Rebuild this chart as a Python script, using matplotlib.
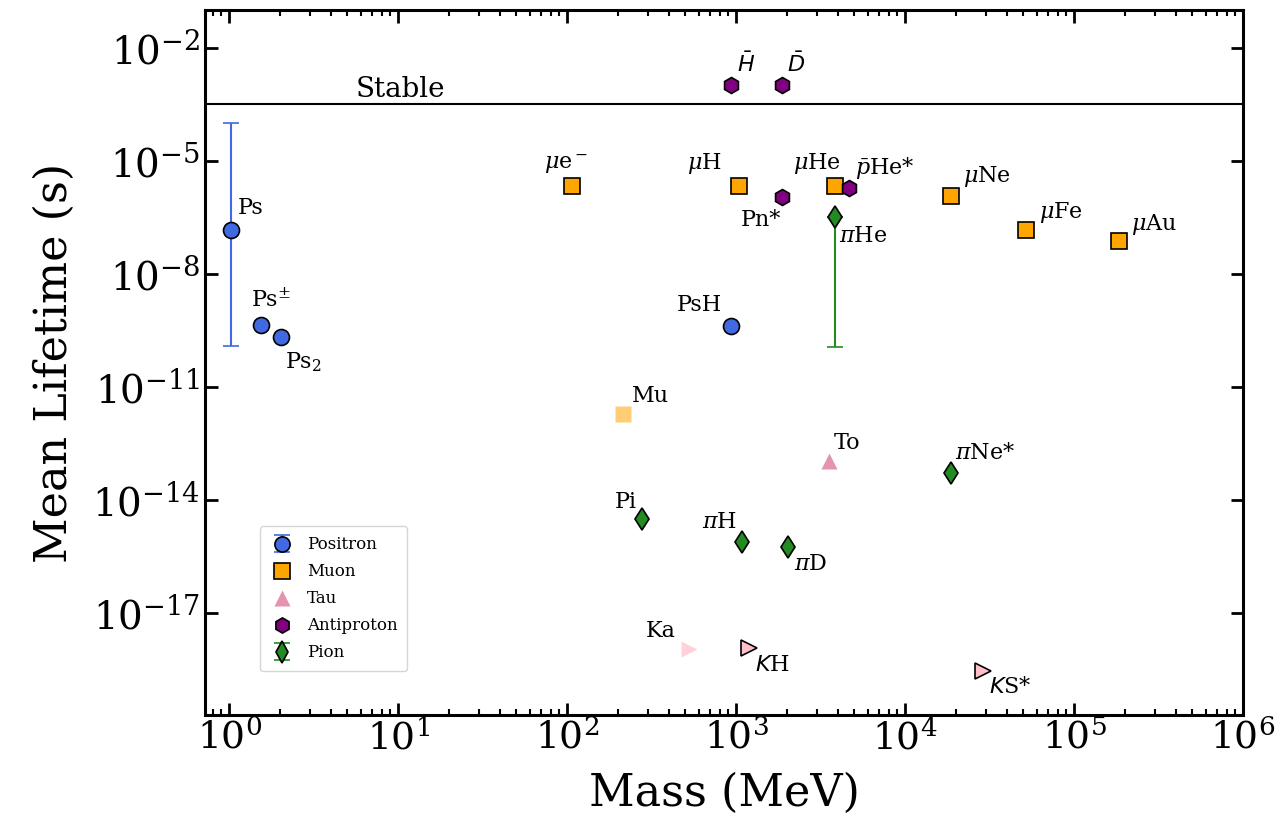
import numpy as np
import matplotlib
matplotlib.use("Agg")
import matplotlib.pyplot as plt
from matplotlib.ticker import LogLocator, NullLocator, NullFormatter

# masses in MeV, mean lifetimes in s
positron_names = ["Ps", r"Ps$^{\pm}$", r"Ps$_2$", "PsH"]
positron_mass = [1.022, 1.533, 2.04, 939.0]
positron_life = [1.42e-7, 4.5e-10, 2.1e-10, 4.2e-10]
ps_life_range = [1.25e-10, 1.0e-4]  # para-Ps .. upper bound

muon_names = [r"$\mu$e$^-$", r"$\mu$H", r"$\mu$He", r"$\mu$Ne", r"$\mu$Fe", r"$\mu$Au"]
muon_mass = [107.0, 1044.0, 3833.0, 18720.0, 52200.0, 183600.0]
muon_life = [2.2e-6, 2.2e-6, 2.2e-6, 1.15e-6, 1.45e-7, 7.4e-8]

muonium_name = "Mu"
muonium_mass = 214.0
muonium_life = 1.9e-12

tau_name = "To"
tau_mass = 3554.0
tau_life = 1.1e-13

pbar_names = [r"$\bar{H}$", r"$\bar{D}$", "Pn*", r"$\bar{p}$He*"]
pbar_mass = [938.8, 1876.0, 1878.0, 4665.0]
pbar_life = [1.0e-3, 1.0e-3, 1.07e-6, 1.9e-6]

pion_names = [r"$\pi$He", "Pi", r"$\pi$H", r"$\pi$D", r"$\pi$Ne*"]
pion_mass = [3867.0, 279.0, 1078.0, 2016.0, 18760.0]
pion_life = [3.2e-7, 3.1e-15, 7.6e-16, 5.6e-16, 5.4e-14]
pihe_life_low = 1.15e-10

kaon_names = ["Ka", r"$K$H", r"$K$S*"]
kaon_mass = [527.0, 1194.0, 29000.0]
kaon_life = [1.1e-18, 1.2e-18, 3.0e-19]
kaon_faded = [True, False, False]

stable_life = 3.3e-4

# label offsets in pixels (dx, dy, ha)
positron_offsets = [(7, 22, "left"), (-10, 25, "left"), (4, -25, "left"), (-9, 21, "right")]
muon_offsets = [(-6, 22, "center"), (-18, 22, "right"), (-18, 22, "center"),
                (12, 20, "left"), (13, 18, "left"), (12, 17, "left")]
pbar_offsets = [(15, 21, "center"), (14, 21, "center"), (-1, -23, "right"), (6, 20, "left")]
pion_offsets = [(4, -19, "left"), (-6, 17, "right"), (-5, 20, "right"),
                (6, -17, "left"), (4, 20, "left")]
kaon_offsets = [(-13, 18, "right"), (6, -17, "left"), (6, -16, "left")]

plt.rcParams.update({
    "font.family": "DejaVu Serif",
    "mathtext.fontset": "dejavuserif",
})

fig = plt.figure(figsize=(12.84, 8.15), dpi=100)
ax = fig.add_axes([0.1597, 0.1227, 0.8084, 0.865])

ms = 11.5
fs = 16
edge = dict(markeredgecolor="black", markeredgewidth=1.2)


def label(names, xs, ys, offsets, sans=()):
    for i, (n, x, y, (dx, dy, ha)) in enumerate(zip(names, xs, ys, offsets)):
        kw = {}
        if i in sans:
            kw["math_fontfamily"] = "dejavusans"
        ax.annotate(n, (x, y), xytext=(dx, dy), textcoords="offset pixels",
                    ha=ha, va="center", fontsize=fs, **kw)


# positronic systems
ps_err = [[positron_life[0] - ps_life_range[0]], [ps_life_range[1] - positron_life[0]]]
h_pos = ax.errorbar(positron_mass[:1], positron_life[:1], yerr=ps_err, fmt="o",
                    color="royalblue", ecolor="royalblue", elinewidth=1.5, capsize=6,
                    capthick=1.5, ms=ms, label="Positron", **edge)
ax.plot(positron_mass[1:], positron_life[1:], "o", color="royalblue", ms=ms, **edge)
label(positron_names, positron_mass, positron_life, positron_offsets)

# muonic systems
h_mu, = ax.plot(muon_mass, muon_life, "s", color="orange", ms=ms, label="Muon", **edge)
ax.plot([muonium_mass], [muonium_life], "s", color="orange", alpha=0.55, ms=ms, mec="none")
label(muon_names, muon_mass, muon_life, muon_offsets)
label([muonium_name], [muonium_mass], [muonium_life], [(9, 18, "left")])

# true tauonium
h_tau, = ax.plot([tau_mass], [tau_life], "^", color="palevioletred", alpha=0.75, ms=ms,
                 mec="none", label="Tau")
label([tau_name], [tau_mass], [tau_life], [(5, 18, "left")])

# antiprotonic systems
h_pbar, = ax.plot(pbar_mass, pbar_life, "h", color="purple", ms=ms, label="Antiproton",
                  **edge)
label(pbar_names, pbar_mass, pbar_life, pbar_offsets, sans=(0, 1))

# pionic systems
pihe_err = [[pion_life[0] - pihe_life_low], [0.0]]
h_pi = ax.errorbar(pion_mass[:1], pion_life[:1], yerr=pihe_err, fmt="d",
                   color="forestgreen", ecolor="forestgreen", elinewidth=1.5, capsize=6,
                   capthick=1.5, ms=ms, label="Pion", **edge)
ax.plot(pion_mass[1:], pion_life[1:], "d", color="forestgreen", ms=ms, **edge)
label(pion_names, pion_mass, pion_life, pion_offsets)

# kaonic systems
for m, t, faded in zip(kaon_mass, kaon_life, kaon_faded):
    if faded:
        ax.plot([m], [t], ">", color="pink", alpha=0.7, ms=ms, mec="none")
    else:
        ax.plot([m], [t], ">", color="pink", ms=ms, **edge)
label(kaon_names, kaon_mass, kaon_life, kaon_offsets, sans=(1, 2))

# stable limit
ax.axhline(stable_life, color="black", lw=1.5)
ax.annotate("Stable", (5.6, stable_life), xytext=(0, 1), textcoords="offset pixels",
            ha="left", va="bottom", fontsize=20)

ax.set_xscale("log")
ax.set_yscale("log")
ax.set_xlim(0.72, 1e6)
ax.set_ylim(2e-20, 1e-1)
ax.set_yticks([1e-17, 1e-14, 1e-11, 1e-8, 1e-5, 1e-2])
ax.yaxis.set_minor_locator(NullLocator())
ax.yaxis.set_minor_formatter(NullFormatter())
ax.xaxis.set_major_locator(LogLocator(base=10, numticks=10))
ax.xaxis.set_minor_locator(LogLocator(base=10, subs=np.arange(2, 10), numticks=20))

ax.tick_params(which="both", direction="in", top=True, right=True, labelsize=27)
ax.tick_params(axis="y", labelsize=28)
ax.tick_params(which="major", length=9, width=2)
ax.tick_params(which="minor", length=4.5, width=1.5)
for s in ax.spines.values():
    s.set_linewidth(2.2)

ax.set_xlabel("Mass (MeV)", fontsize=32, labelpad=10)
ax.set_ylabel("Mean Lifetime (s)", fontsize=32, labelpad=12)

ax.legend([h_pos, h_mu, h_tau, h_pbar, h_pi],
          ["Positron", "Muon", "Tau", "Antiproton", "Pion"],
          loc="lower left", bbox_to_anchor=(0.045, 0.05), fontsize=12, markerscale=0.95,
          labelspacing=0.6, handlelength=1.4, handletextpad=0.8, borderpad=0.6)

fig.savefig("out.png", dpi=100)
